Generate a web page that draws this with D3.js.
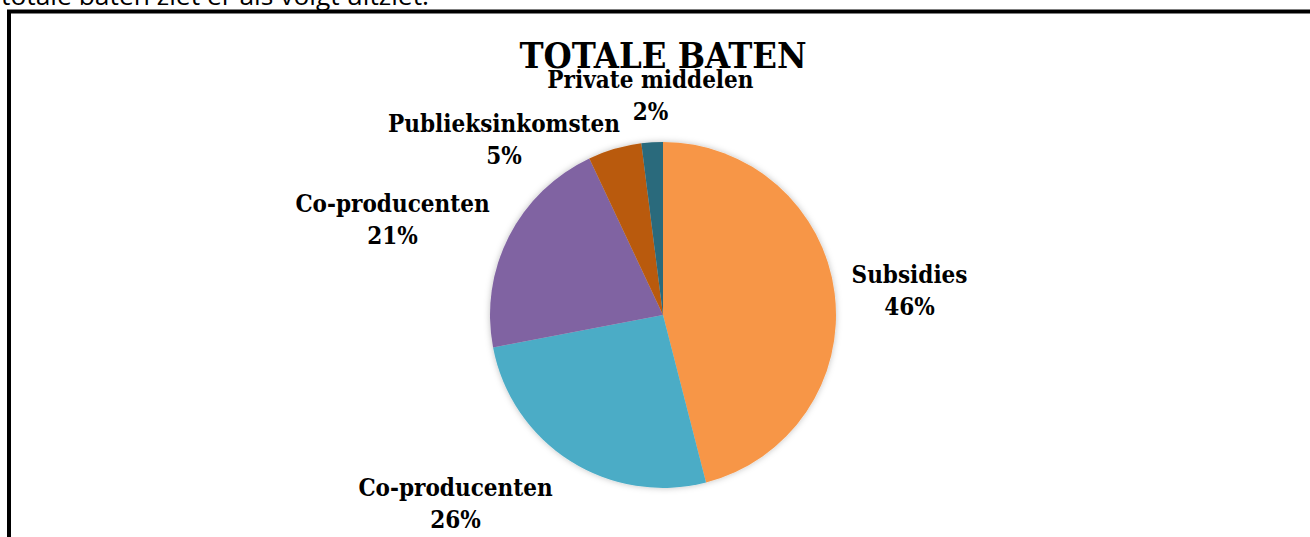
<!DOCTYPE html>
<html lang="nl">
<head>
  <meta charset="UTF-8"/>
  <title>Totale baten</title>
  <script src="https://cdn.jsdelivr.net/npm/d3@7"></script>
  <style>
    body { margin: 0; background: #fff; }
    .lbl, .title { font-family: "DejaVu Serif Condensed", "DejaVu Serif", serif; font-weight: bold; fill: #000; }
    .intro { font-family: "Open Sans", "Liberation Sans", sans-serif; fill: #000; }
  </style>
</head>
<body>
<svg id="chart" width="1310" height="537"></svg>
<script>

// data (clockwise from 12 o'clock)
var categories = ["Subsidies", "Co-producenten", "Co-producenten", "Publieksinkomsten", "Private middelen"];
var values     = [46, 26, 21, 5, 2];
var titleText  = "TOTALE BATEN";
var introText  = "totale baten ziet er als volgt uitziet.";

// layout
var W = 1310, H = 537;
var cx = 663, cy = 315, R = 173;
var palette = ["#F79646", "#4BACC6", "#8064A2", "#B95A0C", "#2B6A7B"];
// Excel style nudges to keep labels clear of each other
var nudge = [[7, 6], [-12, 3], [-10, 15], [-43, 31], [12, -6]];

var svg = d3.select("#chart");

// text cut off by the page above the frame
svg.append("text").attr("class", "intro")
   .attr("x", 1).attr("y", 5)
   .attr("font-size", 25)
   .attr("textLength", 428)
   .attr("lengthAdjust", "spacingAndGlyphs")
   .text(introText);

// frame (only top and left edge visible)
svg.append("path")
   .attr("d", "M9," + H + "V11.5H" + W)
   .attr("fill", "none")
   .attr("stroke", "#000")
   .attr("stroke-width", 4);

var color = d3.scaleOrdinal().domain(d3.range(values.length)).range(palette);

var defs = svg.append("defs");
var f = defs.append("filter").attr("id", "soft").attr("x", "-20%").attr("y", "-20%").attr("width", "140%").attr("height", "140%");
f.append("feDropShadow").attr("dx", 0).attr("dy", 0).attr("stdDeviation", 3)
 .attr("flood-color", "#000").attr("flood-opacity", 0.25);

var pie = d3.pie().sort(null).value(function(d) { return d; });
var arcs = pie(values);
var arc = d3.arc().innerRadius(0).outerRadius(R);
var labelArc = d3.arc().innerRadius(R + 10).outerRadius(R + 10);

var g = svg.append("g").attr("transform", "translate(" + cx + "," + cy + ")");

g.append("g").attr("filter", "url(#soft)")
  .selectAll("path")
  .data(arcs)
  .enter().append("path")
    .attr("d", arc)
    .attr("fill", function(d, i) { return color(i); });

// title
svg.append("text").attr("class", "title")
   .attr("x", cx).attr("y", 68)
   .attr("text-anchor", "middle")
   .attr("font-size", 36)
   .text(titleText);

// labels
var total = d3.sum(values);
arcs.forEach(function(d, i) {
  var t = g.append("text").attr("class", "lbl").attr("font-size", 24).attr("text-anchor", "middle");
  t.append("tspan").attr("x", 0).attr("dy", 0).text(categories[i]);
  t.append("tspan").attr("x", 0).attr("dy", 32).text(d3.format(".0%")(d.value / total));
  var bb = t.node().getBBox();
  var p = labelArc.centroid(d);
  var a = (d.startAngle + d.endAngle) / 2;
  var ux = Math.max(-1, Math.min(1, 2 * Math.sin(a)));
  var uy = Math.max(-1, Math.min(1, -2 * Math.cos(a)));
  var tx = p[0] + ux * bb.width / 2 + nudge[i][0];
  var ty = p[1] + uy * bb.height / 2 + nudge[i][1];
  t.attr("transform", "translate(" + (tx - (bb.x + bb.width / 2)) + "," + (ty - (bb.y + bb.height / 2)) + ")");
});

</script>
</body>
</html>
